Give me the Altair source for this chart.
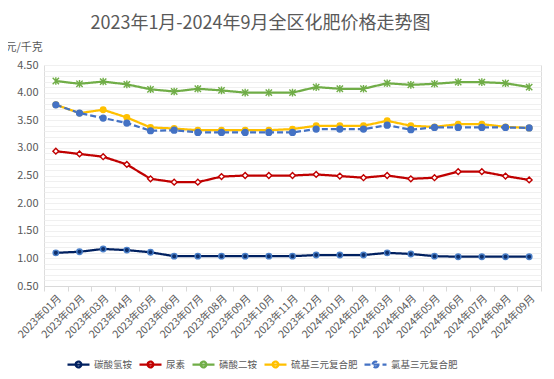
import altair as alt
import pandas as pd

months = ["2023年01月", "2023年02月", "2023年03月", "2023年04月", "2023年05月", "2023年06月",
          "2023年07月", "2023年08月", "2023年09月", "2023年10月", "2023年11月", "2023年12月",
          "2024年01月", "2024年02月", "2024年03月", "2024年04月", "2024年05月", "2024年06月",
          "2024年07月", "2024年08月", "2024年09月"]

series_names = ["碳酸氢铵", "尿素", "磷酸二铵", "硫基三元复合肥", "氯基三元复合肥"]

tanxuan = [1.10, 1.12, 1.17, 1.15, 1.11, 1.04, 1.04, 1.04, 1.04, 1.04, 1.04, 1.06,
           1.06, 1.06, 1.10, 1.08, 1.04, 1.03, 1.03, 1.03, 1.03]
niaosu = [2.94, 2.89, 2.84, 2.70, 2.44, 2.38, 2.38, 2.48, 2.50, 2.50, 2.50, 2.52,
          2.49, 2.46, 2.50, 2.44, 2.46, 2.57, 2.57, 2.49, 2.42]
linsuan = [4.21, 4.16, 4.20, 4.15, 4.06, 4.02, 4.07, 4.04, 4.00, 4.00, 4.00, 4.10,
           4.07, 4.07, 4.17, 4.14, 4.16, 4.19, 4.19, 4.17, 4.10]
liuji = [3.78, 3.63, 3.69, 3.55, 3.37, 3.35, 3.32, 3.32, 3.32, 3.32, 3.34, 3.40,
         3.40, 3.40, 3.49, 3.40, 3.38, 3.43, 3.43, 3.38, 3.36]
lvji = [3.78, 3.63, 3.54, 3.45, 3.31, 3.32, 3.28, 3.28, 3.28, 3.28, 3.28, 3.34,
        3.34, 3.34, 3.41, 3.33, 3.37, 3.37, 3.37, 3.37, 3.36]

major_ticks = [0.5, 1.0, 1.5, 2.0, 2.5, 3.0, 3.5, 4.0, 4.5]
minor_ticks = [round(0.5 + 0.1 * i, 1) for i in range(41)]

line_colors = ["#002060", "#C00000", "#70AD47", "#FFC000", "#4472C4"]
marker_fill = ["#0E2F6B", "#FFFFFF", "#70AD47", "#FFC000", "#4472C4"]
marker_stroke = ["#4A7FC8", "#C00000", "#70AD47", "#FFC000", "#4472C4"]
marker_size = [30, 34, 40, 30, 34]
dashes = [[1, 0], [1, 0], [1, 0], [1, 0], [6, 3]]
shapes = ["circle", "diamond",
          "M-1,-1L1,1M-1,1L1,-1M0,-1.2L0,1.2",
          "circle", "circle"]

values_by_series = [tanxuan, niaosu, linsuan, liuji, lvji]
rows = []
for name, vals in zip(series_names, values_by_series):
    for m, v in zip(months, vals):
        rows.append({"month": m, "series": name, "value": v})
df = pd.DataFrame(rows)

FONT = "Noto Sans CJK SC"
TXT = "#595959"

x_enc = alt.X("month:N", sort=months, title=None,
              scale=alt.Scale(paddingInner=0, paddingOuter=0),
              axis=alt.Axis(labelAngle=-45, labelFontSize=10.5, labelColor=TXT, labelFont=FONT,
                            domainColor="#d9d9d9", tickColor="#d9d9d9", tickBand="extent",
                            tickSize=5, labelPadding=2, grid=False))

y_scale = alt.Scale(domain=[0.5, 4.5], nice=False, zero=False)

legend_path = ("M-1,0H1M-0.26,0A0.26,0.26,0,1,1,0.26,0A0.26,0.26,0,1,1,-0.26,0")

lines = alt.Chart(df).mark_line(strokeWidth=2.25).encode(
    x=x_enc,
    y=alt.Y("value:Q", scale=y_scale,
            axis=alt.Axis(values=major_ticks, format=".2f", title="元/千克", titleAngle=0,
                          titleX=-39, titleY=-18, titleAlign="left", titleBaseline="middle",
                          titleFont=FONT, titleFontSize=11, titleFontWeight="normal",
                          titleColor=TXT, labelColor=TXT, labelFont=FONT, labelFontSize=11,
                          domain=False, ticks=False, labelPadding=6,
                          gridColor="#d9d9d9", gridWidth=1, orient="left")),
    color=alt.Color("series:N", sort=series_names,
                    scale=alt.Scale(domain=series_names, range=line_colors),
                    legend=alt.Legend(orient="none", legendX=22, legendY=287, direction="horizontal",
                                      title=None, symbolType=legend_path, symbolSize=484,
                                      symbolStrokeWidth=2.25, labelFont=FONT, labelFontSize=9.5,
                                      labelColor=TXT, columnPadding=2, labelOffset=3,
                                      gridAlign="none")),
    strokeDash=alt.StrokeDash("series:N", sort=series_names,
                              scale=alt.Scale(domain=series_names, range=dashes),
                              legend=None),
)

point_layers = []
for name, shp, fc, sc, sz in zip(series_names, shapes, marker_fill, marker_stroke, marker_size):
    point_layers.append(
        alt.Chart(df).transform_filter(alt.datum.series == name)
        .mark_point(filled=True, size=sz, strokeWidth=1.4, opacity=1,
                    shape=shp, fill=fc, stroke=sc)
        .encode(x=alt.X("month:N", sort=months),
                y=alt.Y("value:Q", scale=y_scale, axis=None))
    )

minor_df = pd.DataFrame({"v": minor_ticks})
minor = alt.Chart(minor_df).mark_rule(opacity=0).encode(
    y=alt.Y("v:Q", scale=y_scale,
            axis=alt.Axis(values=minor_ticks, labels=False, ticks=False, domain=False, title=None,
                          gridColor="#f0f0f0", gridWidth=1, orient="right", zindex=0))
)

chart = alt.layer(minor, lines, *point_layers).resolve_axis(y="independent").resolve_scale(
    y="shared"
).properties(
    width=497, height=221,
    padding={"left": 36, "top": 57, "right": 5, "bottom": 85},
    autosize=alt.AutoSizeParams(type="none"),
    title=alt.TitleParams("2023年1月-2024年9月全区化肥价格走势图", font=FONT, fontSize=18,
                          fontWeight="normal", color=TXT, anchor="middle", dx=-32, offset=8),
).configure_view(stroke=None).configure(background="white")

chart.save("out.html", embed_options={"renderer": "svg", "actions": False})
